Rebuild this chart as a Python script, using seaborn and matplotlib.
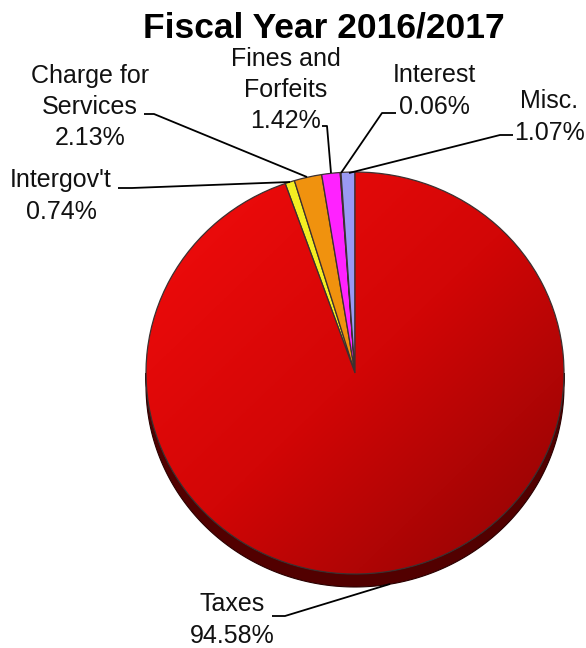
import numpy as np
import matplotlib
matplotlib.use("Agg")
import matplotlib.pyplot as plt
from matplotlib.colors import LinearSegmentedColormap
from matplotlib.patches import Polygon
import seaborn as sns

# Revenue sources, fiscal year 2016/2017 (percent of total)
categories = ["Taxes", "Intergov't", "Charge for\nServices", "Fines and\nForfeits", "Interest", "Misc."]
shares = [94.58, 0.74, 2.13, 1.42, 0.06, 1.07]
slice_colors = ["#d80808", "#f4ee22", "#f0920e", "#ff22ff", "#7a3a7a", "#9a9af4"]
title_text = "Fiscal Year 2016/2017"

sns.set_theme(style="white")
plt.rcParams["font.family"] = ["Liberation Sans", "DejaVu Sans"]

W, H = 586, 648
fig = plt.figure(figsize=(W / 100, H / 100), dpi=100)
ax = fig.add_axes([0, 0, 1, 1])

# pie geometry in pixel units; y is squeezed a little to give the tilted look
cx, cy_px = 355, 373
R, RY = 209, 201
k = R / RY
DEPTH = 13


def X(px):
    return px


def Y(py):
    return (H - py) * k


cy = Y(cy_px)

# side wall of the disc
t = np.linspace(np.pi, 2 * np.pi, 200)
top_edge = np.column_stack([cx + R * np.cos(t), cy + R * np.sin(t)])
bot_edge = np.column_stack([cx + R * np.cos(t[::-1]), cy - DEPTH * k + R * np.sin(t[::-1])])
side = Polygon(np.vstack([top_edge, bot_edge]), closed=True,
               facecolor="#520000", edgecolor="#2a0000", linewidth=0.8, zorder=1)
ax.add_patch(side)

wedges, _ = ax.pie(shares, colors=slice_colors, startangle=90, counterclock=False,
                   center=(cx, cy), radius=R,
                   wedgeprops=dict(edgecolor="#3c3030", linewidth=0.9))
for w in wedges:
    w.set_zorder(2)

# shaded face for the large slice: light at upper left, dark at lower right
gx, gy = np.meshgrid(np.linspace(0, 1, 300), np.linspace(0, 1, 300))
grad = (gx + gy) / 2
red_cmap = LinearSegmentedColormap.from_list("face", ["#f40c0c", "#d20606", "#8c0404"])
img = ax.imshow(grad, cmap=red_cmap, extent=[cx - R, cx + R, cy - R, cy + R],
                origin="upper", aspect="auto", zorder=3, interpolation="bilinear")
img.set_clip_path(wedges[0])
wedges[0].set_facecolor("none")
wedges[0].set_zorder(4)

ax.set_xlim(0, W)
ax.set_ylim(0, H * k)
ax.set_aspect("auto")
ax.axis("off")

# data labels with leader lines (pixel positions)
label_pos = [(232, 620), (61, 196), (90, 107), (286, 90), (434, 91), (549, 117)]
leaders = [
    [(272, 616), (285, 616), (390, 584)],
    [(118, 188), (132, 188), (290, 182)],
    [(144, 114), (154, 114), (307, 177)],
    [(322, 126), (327, 126), (331, 173)],
    [(396, 113), (382, 113), (341, 173)],
    [(513, 135), (500, 135), (349, 173)],
]
for name, val, (lx, ly), pts in zip(categories, shares, label_pos, leaders):
    ax.text(X(lx), Y(ly), f"{name}\n{val:.2f}%", ha="center", va="center",
            multialignment="center", fontsize=18, linespacing=1.38, color="#111111")
    xs = [X(p[0]) for p in pts]
    ys = [Y(p[1]) for p in pts]
    ax.plot(xs, ys, color="black", lw=1.3, zorder=5, solid_capstyle="butt")

ax.text(X(324), Y(28), title_text, ha="center", va="center",
        fontsize=25.5, fontweight="bold", color="black")

fig.savefig("out.png", dpi=100)
